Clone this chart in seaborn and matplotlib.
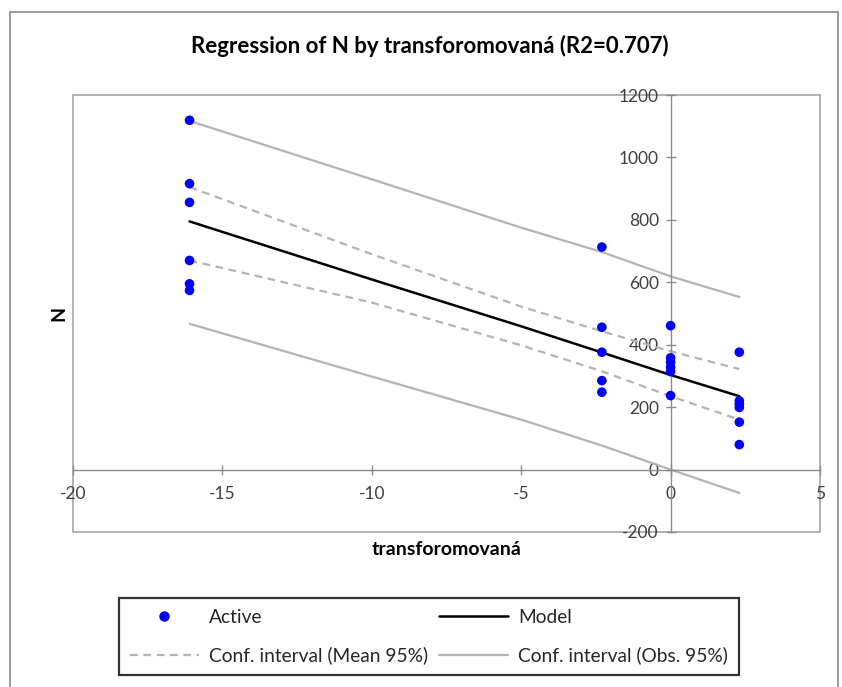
import matplotlib
matplotlib.use("Agg")
import matplotlib.pyplot as plt
from matplotlib.lines import Line2D
import seaborn as sns
import pandas as pd

# ---- data ----
x_obs = [-16.1]*6 + [-2.3]*5 + [0.0]*6 + [2.3]*6
n_obs = [1119, 916, 856, 670, 595, 574,
         713, 456, 376, 285, 248,
         461, 358, 344, 328, 314, 237,
         376, 220, 210, 199, 152, 80]

x_line = [-16.1, -10, -5, -2.3, 0, 2.3]
model = [795, 609, 459, 375, 303, 235]
mean_upper = [905, 690, 522, 443, 379, 322]
mean_lower = [670, 535, 398, 315, 235, 160]
obs_upper = [1117, 930, 775, 697, 619, 553]
obs_lower = [467, 298, 160, 77, 0, -75]

x_ticks = [-20, -15, -10, -5, 0, 5]
y_ticks = [-200, 0, 200, 400, 600, 800, 1000, 1200]

title = "Regression of N by transforomovaná (R2=0.707)"
x_label = "transforomovaná"
y_label = "N"

sns.set_theme(style="white")
plt.rcParams['font.family'] = ['Lato', 'DejaVu Sans']
plt.rcParams['axes.unicode_minus'] = False

W, H = 842, 687
fig = plt.figure(figsize=(W/100, H/100), dpi=100)
L, R, T, B = 73, 820, 95, 532
ax = fig.add_axes([L/W, 1-B/H, (R-L)/W, (B-T)/H])

pts = pd.DataFrame({"x": x_obs, "N": n_obs})
lines = pd.DataFrame({"x": x_line, "model": model, "mu": mean_upper,
                      "ml": mean_lower, "ou": obs_upper, "ol": obs_lower})

ci_col = "#B4B4B4"
dash = (0, (3.5, 2.5))
for col in ["ou", "ol"]:
    sns.lineplot(data=lines, x="x", y=col, ax=ax, color=ci_col, lw=1.6,
                 sort=False, estimator=None)
for col in ["mu", "ml"]:
    sns.lineplot(data=lines, x="x", y=col, ax=ax, color=ci_col, lw=1.6,
                 sort=False, estimator=None, linestyle=dash)
sns.lineplot(data=lines, x="x", y="model", ax=ax, color="black", lw=1.8,
             sort=False, estimator=None)
sns.scatterplot(data=pts, x="x", y="N", ax=ax, color="#0000FF", s=48,
                edgecolor="none", zorder=5)

ax.set_xlim(-20, 5)
ax.set_ylim(-200, 1200)
ax.set_xticks(x_ticks)
ax.set_yticks(y_ticks)

axis_col = "#8C8C8C"
frame = plt.Rectangle((0, 0), 1, 1, transform=ax.transAxes, fill=False,
                      edgecolor="#A6A6A6", lw=1.2, zorder=0, clip_on=False)
ax.add_patch(frame)
for s in ["top", "right"]:
    ax.spines[s].set_visible(False)
ax.spines["bottom"].set_position(("data", 0))
ax.spines["left"].set_position(("data", 0))
for s in ["bottom", "left"]:
    ax.spines[s].set_color(axis_col)
    ax.spines[s].set_linewidth(1.0)
ax.tick_params(axis="both", direction="inout", length=7, width=1.0,
               color=axis_col, labelsize=12.5, labelcolor="#404040", pad=5,
               bottom=True, left=True)
ax.tick_params(axis="x", pad=8)

ax.set_xlabel(x_label, fontsize=14, fontweight="bold", color="black")
ax.set_ylabel(y_label, fontsize=14, fontweight="bold", color="black")
ax.xaxis.set_label_coords(0.5, -0.02)
ax.yaxis.set_label_coords(-0.008, 0.5)

fig.text(430/W, 1-46/H, title, ha="center", va="center", fontsize=16,
         fontweight="bold", color="black")

# outer chart border
bc = "#8C8C8C"
fig.add_artist(Line2D([10/W, 10/W], [0, 1-12/H], transform=fig.transFigure, color=bc, lw=1.2))
fig.add_artist(Line2D([10/W, 838/W], [1-12/H, 1-12/H], transform=fig.transFigure, color=bc, lw=1.2))
fig.add_artist(Line2D([838/W, 838/W], [0, 1-12/H], transform=fig.transFigure, color=bc, lw=1.2))

handles = [
    Line2D([], [], marker="o", color="#0000FF", linestyle="none", markersize=6.5),
    Line2D([], [], color=ci_col, lw=1.6, linestyle=dash),
    Line2D([], [], color="black", lw=1.8),
    Line2D([], [], color=ci_col, lw=1.6),
]
labels = ["Active", "Conf. interval (Mean 95%)", "Model", "Conf. interval (Obs. 95%)"]
leg = fig.legend(handles, labels, loc="upper left",
                 bbox_to_anchor=(119/W, 1-598/H),
                 ncol=2, frameon=True, fancybox=False,
                 edgecolor="black", fontsize=13.8, handlelength=3.6,
                 handletextpad=0.52, labelspacing=1.1, borderpad=0.55,
                 columnspacing=0.6, borderaxespad=0)
leg.get_frame().set_linewidth(1.6)

fig.savefig("out.png", dpi=100, facecolor="white")
